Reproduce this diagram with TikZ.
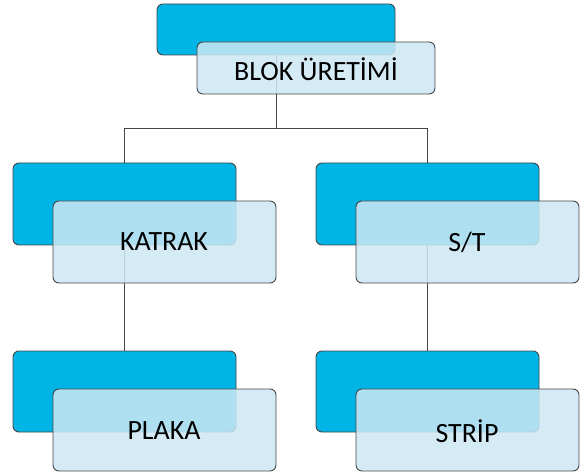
\documentclass[tikz,border=0pt]{standalone}
\usepackage{fontspec}
\setmainfont{Carlito}
\definecolor{boxblue}{RGB}{0,180,230}
\definecolor{boxlight}{RGB}{205,232,244}
\definecolor{edge}{RGB}{70,70,70}
\tikzset{
  back/.style={draw=edge, line width=0.9bp, fill=boxblue, rounded corners=6bp},
  front/.style={draw=edge, line width=0.9bp, fill=boxlight, fill opacity=0.85, rounded corners=6bp},
  label/.style={font=\fontsize{28}{32}\selectfont, text=black},
  link/.style={draw=edge, line width=0.9bp}
}
\begin{document}
\begin{tikzpicture}[x=1bp, y=-1bp]
\useasboundingbox (0,0) rectangle (584,475);
% connectors, drawn first so the boxes sit on top
\coordinate (top) at (276,55);
\coordinate (bus) at (276,128);
\coordinate (busL) at (124,128);
\coordinate (busR) at (427,128);
\draw[link] (top) -- (bus);
\draw[link] (busL) -- (busR);
\draw[link] (busL) -- (124,352);
\draw[link] (busR) -- (427,352);
% level 1
\draw[back] (157,4) rectangle (395,55);
\path[front] (197,42) rectangle (435,94);
\node[label] (blok) at (316,69) {BLOK ÜRETİMİ};
% level 2
\draw[back] (13,163) rectangle (236,245);
\path[front] (53,201) rectangle (276,283);
\node[label] (katrak) at (164,242) {KATRAK};
\draw[back] (316,163) rectangle (539,245);
\path[front] (356,201) rectangle (579,283);
\node[label] (st) at (467,242) {S/T};
% level 3
\draw[back] (13,351) rectangle (236,432);
\path[front] (53,389) rectangle (276,471);
\node[label] (plaka) at (164,431) {PLAKA};
\draw[back] (316,351) rectangle (539,432);
\path[front] (356,389) rectangle (579,471);
\node[label] (strip) at (467,431) {STRİP};
\end{tikzpicture}
\end{document}
